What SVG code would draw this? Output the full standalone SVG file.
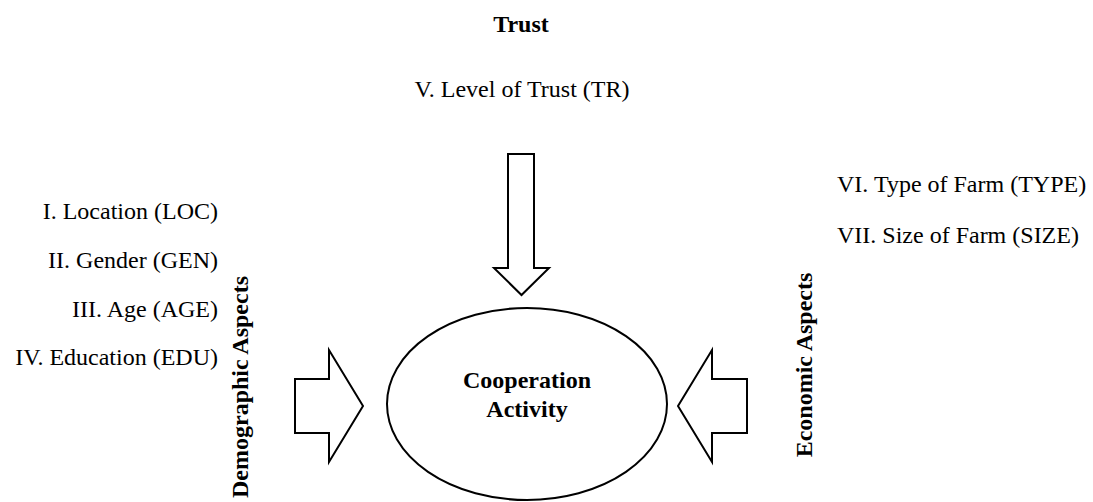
<svg xmlns="http://www.w3.org/2000/svg" width="1093" height="502" viewBox="0 0 1093 502">
  <style>
    .lbl { font-family: "Liberation Serif", "Times New Roman", serif; font-size: 24px; fill: #000; }
    .bold { font-weight: bold; }
    .shape { fill: #fff; stroke: #000; stroke-width: 2; stroke-linejoin: miter; }
  </style>
  <rect width="1093" height="502" fill="#fff"/>

  <!-- Trust factor -->
  <g id="trust">
    <text class="lbl bold" x="521" y="32" text-anchor="middle">Trust</text>
    <text class="lbl" x="522" y="97" text-anchor="middle">V. Level of Trust (TR)</text>
  </g>

  <!-- Demographic factors -->
  <g id="demographic">
    <text class="lbl" x="218" y="219" text-anchor="end">I. Location (LOC)</text>
    <text class="lbl" x="218" y="268" text-anchor="end">II. Gender (GEN)</text>
    <text class="lbl" x="218" y="317" text-anchor="end">III. Age (AGE)</text>
    <text class="lbl" x="218" y="365" text-anchor="end">IV. Education (EDU)</text>
    <text class="lbl bold" transform="translate(248,387) rotate(-90)" text-anchor="middle">Demographic Aspects</text>
  </g>

  <!-- Economic factors -->
  <g id="economic">
    <text class="lbl" x="837" y="192">VI. Type of Farm (TYPE)</text>
    <text class="lbl" x="837" y="243">VII. Size of Farm (SIZE)</text>
    <text class="lbl bold" transform="translate(812,365) rotate(-90)" text-anchor="middle">Economic Aspects</text>
  </g>

  <!-- Central outcome -->
  <g id="cooperation">
    <ellipse class="shape" cx="527" cy="404" rx="140" ry="96"/>
    <text class="lbl bold" x="527" y="388" text-anchor="middle">Cooperation</text>
    <text class="lbl bold" x="527" y="417" text-anchor="middle">Activity</text>
  </g>

  <!-- Block arrows pointing at the outcome -->
  <g id="connectors">
    <polygon class="shape" points="508,154 534,154 534,268 549,268 521.5,295 494,268 508,268"/>
    <polygon class="shape" points="295,379 329,379 329,350 363,406 329,462 329,433 295,433"/>
    <polygon class="shape" points="747,379 712,379 712,350 678,406 712,462 712,433 747,433"/>
  </g>
</svg>
